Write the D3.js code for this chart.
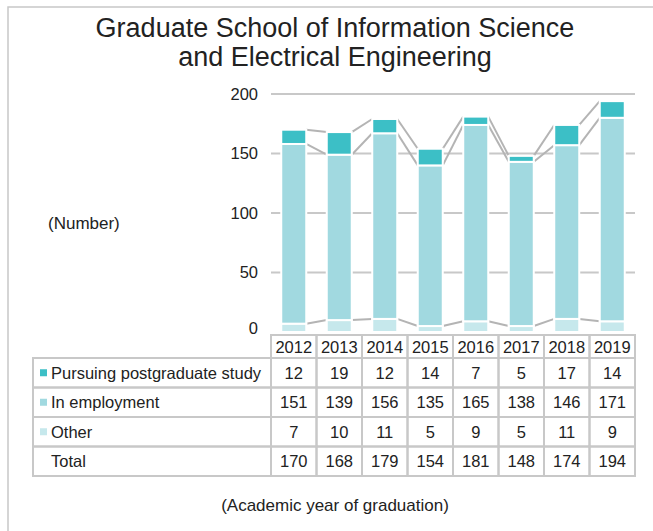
<!DOCTYPE html>
<html><head><meta charset="utf-8">
<script src="https://cdn.jsdelivr.net/npm/d3@7"></script>
<style>
html,body{margin:0;padding:0;background:#fff;}
svg{display:block;font-family:"Liberation Sans",Arial,sans-serif;}
</style></head>
<body>
<svg id="c" width="653" height="531"></svg>
<script>
const years = ["2012","2013","2014","2015","2016","2017","2018","2019"];
const pursuing = [12,19,12,14,7,5,17,14];
const employment = [151,139,156,135,165,138,146,171];
const other = [7,10,11,5,9,5,11,9];
const totals = [170,168,179,154,181,148,174,194];
const seriesNames = ["Pursuing postgraduate study","In employment","Other"];
const yTicks = [0,50,100,150,200];
const titleLines = ["Graduate School of Information Science","and Electrical Engineering"];

const colors = {"Other":"#c6e8ec","In employment":"#a1d9e0","Pursuing postgraduate study":"#3cbfc6"};
const grid = "#c8c8c8";
const txt = "#222";
const fs = 16.5;

const svg = d3.select("#c");
svg.append("rect").attr("width",653).attr("height",531).attr("fill","#fff");
// outer frame
svg.append("rect").attr("x",8).attr("y",7).attr("width",700).attr("height",600)
  .attr("fill","none").attr("stroke",grid).attr("stroke-width",1.5);

// title
svg.append("text").attr("x",335).attr("y",37).attr("text-anchor","middle")
  .attr("font-size",27).attr("fill",txt)
  .selectAll("tspan").data(titleLines).join("tspan")
  .attr("x",335).attr("dy",(d,i)=>i?29:0).text(d=>d);

const left = 271, right = 635;
const x = d3.scaleBand().domain(years).range([left,right]).paddingInner(0).paddingOuter(0);
const y = d3.scaleLinear().domain([0,200]).range([332,94]);

// gridlines
svg.append("g").selectAll("line").data(yTicks.filter(t=>t>0)).join("line")
  .attr("x1",left).attr("x2",right).attr("y1",d=>y(d)).attr("y2",d=>y(d))
  .attr("stroke",grid).attr("stroke-width",2);

// y axis labels
const yAxis = d3.axisLeft(y).tickValues(yTicks).tickSize(0).tickPadding(0);
const ya = svg.append("g").attr("transform",`translate(258,0)`).call(yAxis);
ya.select(".domain").remove();
ya.selectAll("text").attr("font-size",fs).attr("fill",txt)
  .attr("font-family","Liberation Sans, Arial, sans-serif");
ya.selectAll(".tick").filter(d=>d===0).select("text").attr("dy","0.1em");

svg.append("text").attr("x",48).attr("y",229).attr("font-size",17).attr("fill",txt).text("(Number)");

// stack
const rows = years.map((yr,i)=>({year:yr,"Other":other[i],"In employment":employment[i],"Pursuing postgraduate study":pursuing[i]}));
const stack = d3.stack().keys(["Other","In employment","Pursuing postgraduate study"])(rows);
const bw = 25;
const bx = d => x(d.data.year) + (x.bandwidth()-bw)/2;

// connector lines
const conn = svg.append("g");
stack.forEach(layer=>{
  for(let i=0;i<layer.length-1;i++){
    const a = layer[i], b = layer[i+1];
    conn.append("line")
      .attr("x1",bx(a)+bw).attr("y1",y(a[1]))
      .attr("x2",bx(b)).attr("y2",y(b[1]))
      .attr("stroke","#b4b4b4").attr("stroke-width",2);
  }
});

svg.append("g").selectAll("g").data(stack).join("g")
  .attr("fill",d=>colors[d.key])
  .selectAll("rect").data(d=>d).join("rect")
  .attr("x",bx).attr("width",bw)
  .attr("y",d=>y(d[1])).attr("height",d=>y(d[0])-y(d[1]))
  .attr("stroke","#fff").attr("stroke-width",2);

// table
const tLeft = 33, catRight = left;
const rowY = [335,358,387.5,417,446.5,476];
const tbl = svg.append("g");
const tableRows = [
  {label:seriesNames[0], key:seriesNames[0], vals:pursuing},
  {label:seriesNames[1], key:seriesNames[1], vals:employment},
  {label:seriesNames[2], key:seriesNames[2], vals:other},
  {label:"Total", key:null, vals:totals}
];
// header cells
tbl.selectAll("rect.h").data(years).join("rect").attr("class","h")
  .attr("x",d=>x(d)).attr("y",rowY[0]).attr("width",x.bandwidth()).attr("height",rowY[1]-rowY[0])
  .attr("fill","none").attr("stroke",grid).attr("stroke-width",2);
tbl.selectAll("text.h").data(years).join("text").attr("class","h")
  .attr("x",d=>x(d)+x.bandwidth()/2).attr("y",(rowY[0]+rowY[1])/2+6)
  .attr("text-anchor","middle").attr("font-size",fs).attr("fill",txt).text(d=>d);

tableRows.forEach((r,ri)=>{
  const y0 = rowY[ri+1], y1 = rowY[ri+2], cy = (y0+y1)/2+6;
  tbl.append("rect").attr("x",tLeft).attr("y",y0).attr("width",catRight-tLeft).attr("height",y1-y0)
    .attr("fill","none").attr("stroke",grid).attr("stroke-width",2);
  if(r.key){
    tbl.append("rect").attr("x",40).attr("y",(y0+y1)/2-3.5).attr("width",7).attr("height",7).attr("fill",colors[r.key]);
  }
  tbl.append("text").attr("x",51).attr("y",cy).attr("font-size",fs).attr("fill",txt).text(r.label);
  years.forEach((yr,i)=>{
    tbl.append("rect").attr("x",x(yr)).attr("y",y0).attr("width",x.bandwidth()).attr("height",y1-y0)
      .attr("fill","none").attr("stroke",grid).attr("stroke-width",2);
    tbl.append("text").attr("x",x(yr)+x.bandwidth()/2).attr("y",cy).attr("text-anchor","middle")
      .attr("font-size",fs).attr("fill",txt).text(r.vals[i]);
  });
});

svg.append("text").attr("x",335).attr("y",511).attr("text-anchor","middle")
  .attr("font-size",17).attr("fill",txt).text("(Academic year of graduation)");
</script>
</body></html>
